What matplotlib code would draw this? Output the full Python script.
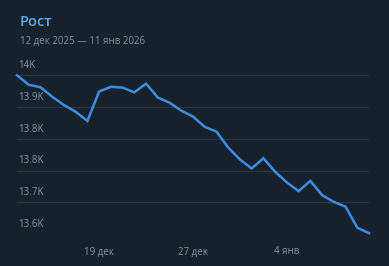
import matplotlib
matplotlib.use("Agg")
import matplotlib.pyplot as plt
import numpy as np

plt.rcParams['font.family'] = ['Open Sans', 'DejaVu Sans']

title = "Рост"
subtitle = "12 дек 2025 — 11 янв 2026"
days = list(range(31))
values = [14000, 13976, 13970, 13946, 13925, 13908, 13885, 13959, 13971, 13969,
          13957, 13979, 13944, 13931, 13911, 13896, 13870, 13858, 13818, 13788,
          13765, 13791, 13757, 13730, 13708, 13734, 13698, 13681, 13669, 13616,
          13602]
yticks = [13600, 13680, 13760, 13840, 13920, 14000]
ytick_labels = ["13.6K", "13.7K", "13.8K", "13.8K", "13.9K", "14K"]
xticks = [7, 15, 23]
xtick_labels = ["19 дек", "27 дек", "4 янв"]

bg = "#17212b"
fig = plt.figure(figsize=(3.89, 2.66), dpi=100, facecolor=bg)
ax = fig.add_axes([17/389, 32/266, 352/389, 158.7/266], facecolor=bg)
ax.set_xlim(0, 30)
ax.set_ylim(13600, 14000)
for s in ax.spines.values():
    s.set_visible(False)
for yt, lab in zip(yticks, ytick_labels):
    ax.axhline(yt, color="#2a3542", lw=0.9, zorder=1)
    ax.annotate(lab, xy=(0, yt), xycoords=("axes fraction", "data"),
                xytext=(1, 3), textcoords="offset points", color="#8393a3",
                fontsize=7, ha="left", va="bottom")
ax.set_yticks([])
ax.set_xticks(xticks)
ax.set_xticklabels(xtick_labels, color="#8393a3", fontsize=7)
ax.tick_params(axis="x", length=0, pad=9)
ax.plot(days, values, color="#3a8ee6", lw=1.8, clip_on=False, zorder=3,
        solid_joinstyle="miter")

fig.text(20/389, 1 - 26/266, title, color="#5ea8ef", fontsize=10.5,
         fontweight="semibold", ha="left", va="baseline")
fig.text(20/389, 1 - 44/266, subtitle, color="#7f8e9d", fontsize=7,
         ha="left", va="baseline")

fig.savefig("out.png", dpi=100, facecolor=bg)
